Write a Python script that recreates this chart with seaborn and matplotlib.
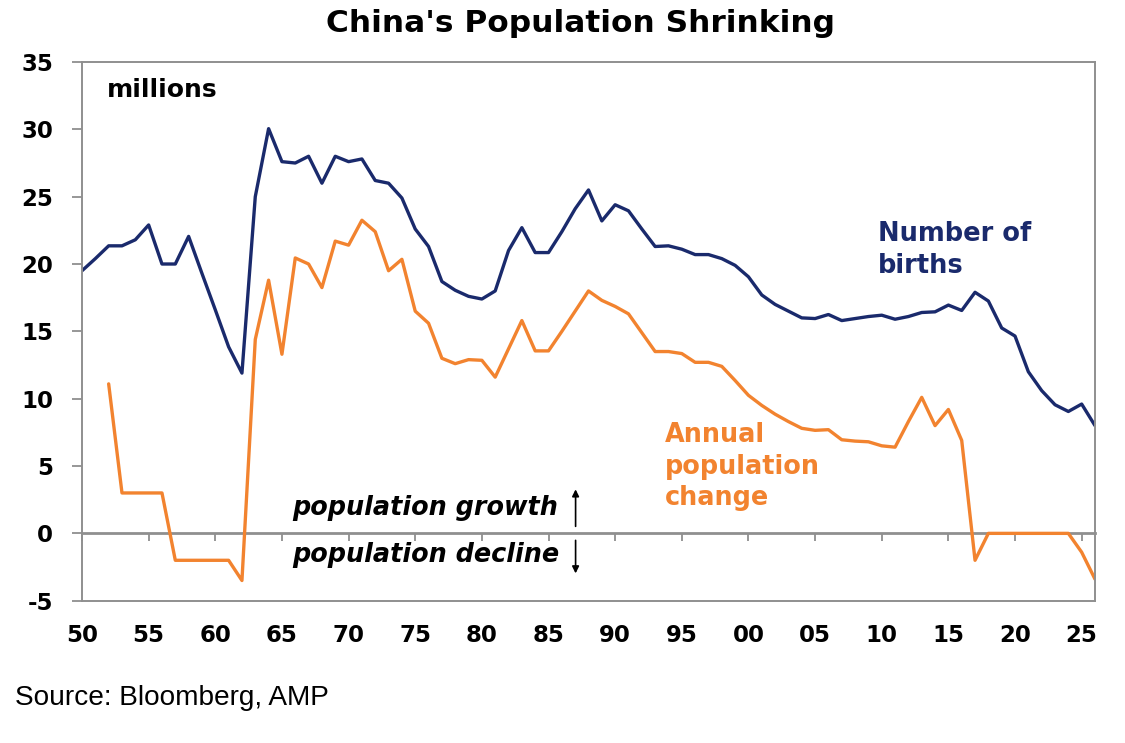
import numpy as np
import pandas as pd
import matplotlib
matplotlib.use("Agg")
import matplotlib.pyplot as plt
import seaborn as sns

# ---------------- data ----------------
years = list(range(1950, 2027))

births = [19.5, 20.4, 21.35, 21.35, 21.8, 22.9, 20.0, 20.0, 22.05, 19.3,
          16.6, 13.85, 11.9, 25.0, 30.05, 27.6, 27.5, 28.0, 26.0, 28.0,
          27.6, 27.8, 26.2, 26.0, 24.9, 22.6, 21.3, 18.7, 18.05, 17.6,
          17.4, 18.0, 21.0, 22.7, 20.85, 20.85, 22.4, 24.1, 25.5, 23.2,
          24.4, 23.95, 22.6, 21.3, 21.35, 21.1, 20.7, 20.7, 20.4, 19.9,
          19.05, 17.7, 17.0, 16.5, 16.0, 15.95, 16.25, 15.8, 15.95, 16.1,
          16.2, 15.9, 16.1, 16.4, 16.45, 16.95, 16.55, 17.9, 17.25, 15.25,
          14.65, 12.0, 10.6, 9.55, 9.05, 9.6, 8.0]

pop_change = [np.nan, np.nan, 11.1, 3.0, 3.0, 3.0, 3.0, -2.0, -2.0, -2.0,
              -2.0, -2.0, -3.5, 14.4, 18.8, 13.3, 20.45, 20.0, 18.25, 21.7,
              21.4, 23.25, 22.4, 19.5, 20.35, 16.5, 15.6, 13.0, 12.6, 12.9,
              12.85, 11.6, 13.7, 15.8, 13.55, 13.55, 15.0, 16.5, 18.0, 17.3,
              16.85, 16.3, 14.9, 13.5, 13.5, 13.35, 12.7, 12.7, 12.4, 11.35,
              10.25, 9.5, 8.85, 8.3, 7.8, 7.65, 7.7, 6.95, 6.85, 6.8,
              6.5, 6.4, 8.3, 10.1, 8.0, 9.2, 6.9, -2.0, 0.0, 0.0,
              0.0, 0.0, 0.0, 0.0, 0.0, -1.4, -3.4]

x_ticks = list(range(1950, 2030, 5))
x_tick_labels = ["50", "55", "60", "65", "70", "75", "80", "85", "90", "95",
                 "00", "05", "10", "15", "20", "25"]
y_ticks = [-5, 0, 5, 10, 15, 20, 25, 30, 35]
y_tick_labels = ["-5", "0", "5", "10", "15", "20", "25", "30", "35"]

title = "China's Population Shrinking"
source = "Source: Bloomberg, AMP"

# ---------------- style ----------------
sns.set_style("white")
plt.rcParams["font.family"] = ["DejaVu Sans"]
plt.rcParams["text.color"] = "black"
plt.rcParams["xtick.color"] = "black"
plt.rcParams["ytick.color"] = "black"
plt.rcParams["axes.labelcolor"] = "black"

NAVY = "#1A2A6C"
ORANGE = "#F2832F"
GRID = "#8f8f8f"

df = pd.DataFrame({"year": years, "births": births, "change": pop_change})

fig = plt.figure(figsize=(11.25, 7.43), dpi=100)
ax = fig.add_axes([82 / 1125, 1 - 600.7 / 743, (1095 - 82) / 1125, (600.7 - 62) / 743])

sns.lineplot(data=df, x="year", y="births", ax=ax, color=NAVY, lw=2.4)
sns.lineplot(data=df, x="year", y="change", ax=ax, color=ORANGE, lw=2.4)

ax.set_xlim(1950, 2026)
ax.set_ylim(-5, 35)
ax.set_xlabel("")
ax.set_ylabel("")

ax.set_xticks(x_ticks)
ax.set_xticklabels(x_tick_labels, fontsize=16.5, fontweight="bold", color="black")
ax.set_yticks(y_ticks)
ax.set_yticklabels(y_tick_labels, fontsize=16.5, fontweight="bold", color="black")
ax.tick_params(axis="x", length=0, pad=17)
ax.tick_params(axis="y", length=7.2, width=1.3, color=GRID, pad=13.5, direction="out", left=True)

for sp in ax.spines.values():
    sp.set_color(GRID)
    sp.set_linewidth(1.4)
    sp.set_visible(True)

# zero line with ticks (axis crossing at 0)
sec = ax.secondary_xaxis(5 / 40)
sec.set_xticks(x_ticks)
sec.set_xticklabels([""] * len(x_ticks))
sec.tick_params(axis="x", length=6, width=1.3, color=GRID, direction="out")
for sp in sec.spines.values():
    sp.set_color(GRID)
    sp.set_linewidth(2.0)

# ---------------- annotations ----------------
def px2x(px):
    return 1950 + (px - 82) / 13.34

def py2y(py):
    return (533 - py) / 13.46

ax.text(px2x(107), py2y(90), "millions", fontsize=18, fontweight="bold",
        color="black", ha="left", va="center")

ax.text(px2x(879), py2y(241), "Number of", fontsize=18.5, fontweight="bold",
        color=NAVY, ha="left", va="baseline")
ax.text(px2x(879), py2y(273), "births", fontsize=18.5, fontweight="bold",
        color=NAVY, ha="left", va="baseline")

ax.text(px2x(665), py2y(442), "Annual", fontsize=18.4, fontweight="bold",
        color=ORANGE, ha="left", va="baseline")
ax.text(px2x(665), py2y(474), "population", fontsize=18.4, fontweight="bold",
        color=ORANGE, ha="left", va="baseline")
ax.text(px2x(665), py2y(505), "change", fontsize=18.4, fontweight="bold",
        color=ORANGE, ha="left", va="baseline")

ax.text(px2x(292), py2y(515), "population growth", fontsize=18.4,
        fontweight="bold", fontstyle="italic", color="black", ha="left", va="baseline")
ax.text(px2x(292), py2y(562), "population decline", fontsize=18.4,
        fontweight="bold", fontstyle="italic", color="black", ha="left", va="baseline")

ax.annotate("", xy=(px2x(576), py2y(489)), xytext=(px2x(576), py2y(526)),
            arrowprops=dict(arrowstyle="-|>", color="black", lw=1.2,
                            mutation_scale=10, shrinkA=0, shrinkB=0))
ax.annotate("", xy=(px2x(576), py2y(573)), xytext=(px2x(576), py2y(540)),
            arrowprops=dict(arrowstyle="-|>", color="black", lw=1.2,
                            mutation_scale=10, shrinkA=0, shrinkB=0))

fig.text(580 / 1125, 1 - 32 / 743, title, fontsize=22.5, fontweight="bold",
         color="black", ha="center", va="baseline")
fig.text(15 / 1125, 1 - 705 / 743, source, fontsize=20.2, color="black",
         family=["Liberation Sans", "DejaVu Sans"], ha="left", va="baseline")

fig.savefig("out.png", dpi=100)
